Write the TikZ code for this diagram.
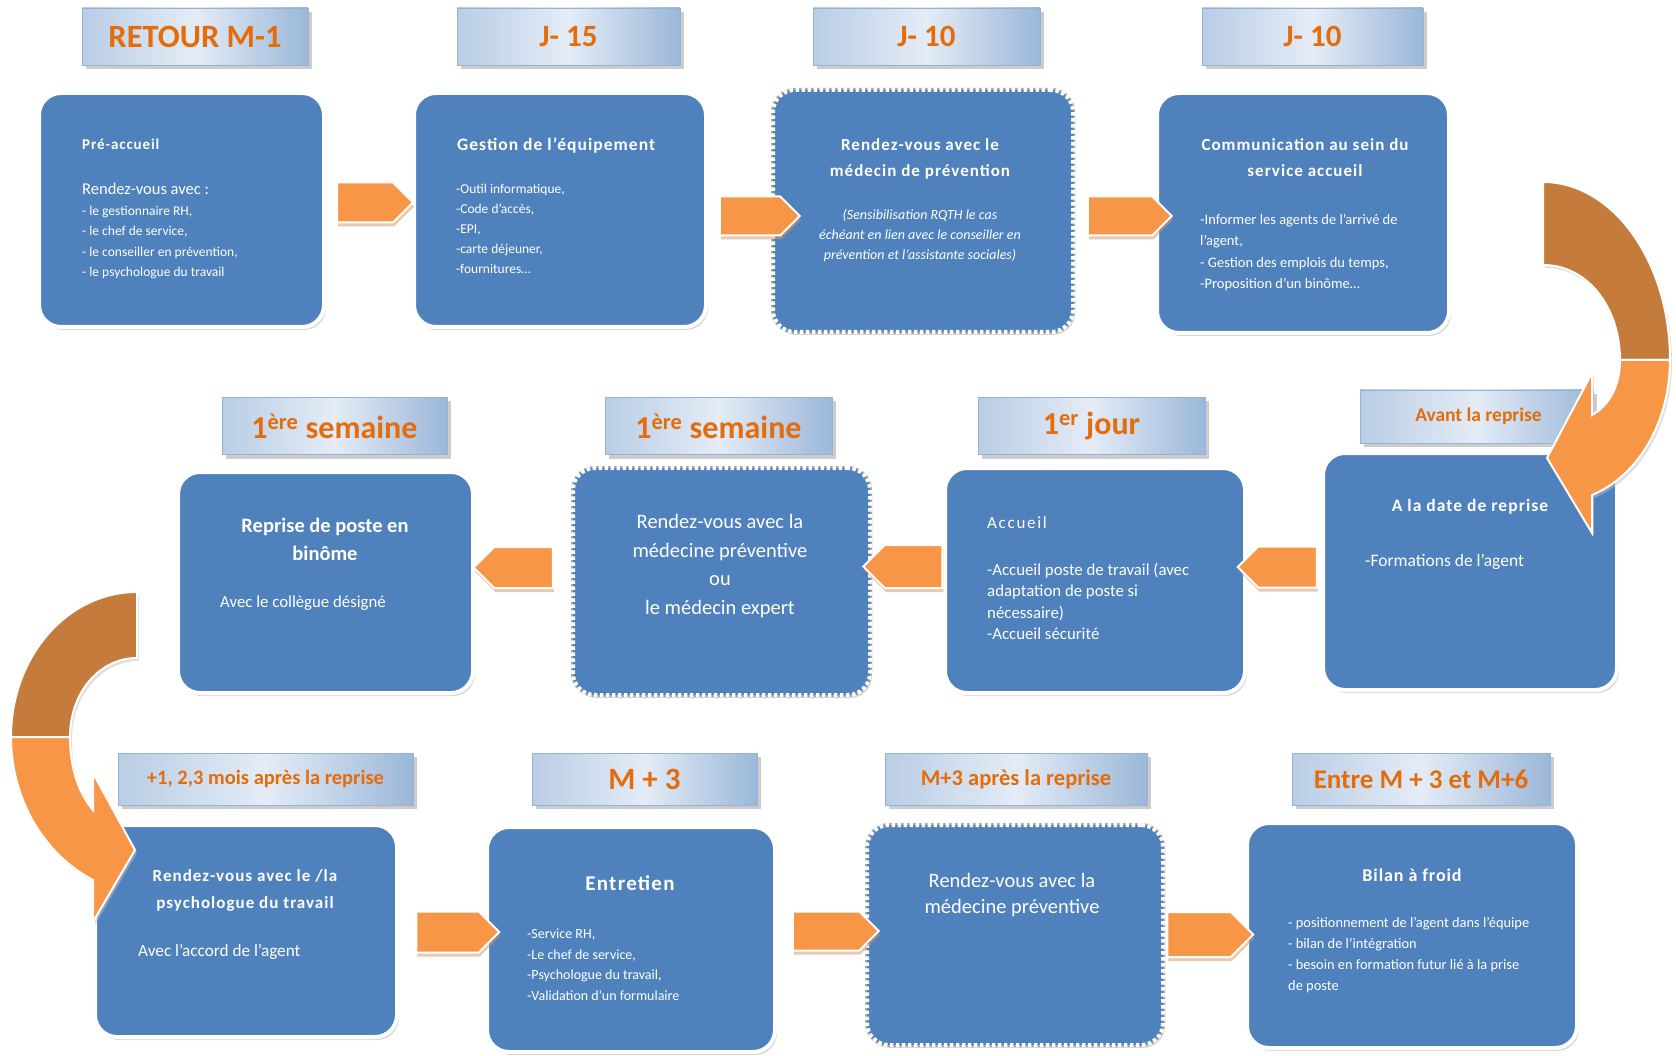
\documentclass[tikz,border=0pt]{standalone}
\usepackage{fontspec}
\setmainfont{Carlito}
\usetikzlibrary{shapes.symbols,shadows,positioning}

\definecolor{bleu}{HTML}{4F81BD}
\definecolor{orangef}{HTML}{F79646}
\definecolor{brun}{HTML}{C57B3B}
\definecolor{orangetxt}{HTML}{E46C0A}
\definecolor{tagA}{HTML}{B9CDE5}
\definecolor{tagB}{HTML}{E4ECF6}
\definecolor{tagC}{HTML}{9BB7D9}
\definecolor{tagline}{HTML}{95B3D7}

\newcommand{\fsz}[2]{\fontsize{#1}{#2}\selectfont}
\newcommand{\ecart}[1]{\addfontfeatures{LetterSpace=#1}}

\tikzset{
  etape/.style={rectangle, rounded corners=22pt, fill=bleu, draw=white, line width=4pt,
    drop shadow={shadow xshift=2pt, shadow yshift=-3pt, fill=black!30}},
  etaped/.style={etape, dash pattern=on 3.5pt off 2.5pt,
    preaction={draw=black!35, line width=4pt, solid}},
  jalon/.style={rectangle, left color=tagA, right color=tagC, middle color=tagB,
    draw=tagline, line width=.6pt, text=orangetxt, font=\bfseries,
    drop shadow={shadow xshift=4pt, shadow yshift=-4pt, fill=black!40}},
  fleche/.style={signal, signal to=east, fill=orangef, draw=white, line width=2pt,
    inner sep=0pt, drop shadow={shadow xshift=1pt, shadow yshift=-4pt, fill=brun!80}},
  flechg/.style={fleche, signal to=west},
  txt/.style={text=white, inner sep=0pt},
  courbe/.style={draw=white, line width=2pt, drop shadow={shadow xshift=2pt, shadow yshift=-3pt, fill=black!25}}
}

\begin{document}
\begin{tikzpicture}[x=1pt, y=-1pt]
  \useasboundingbox (0,0) rectangle (1676,1056);

  % étapes
  \node[etape,  minimum width=285pt, minimum height=234pt] (b1)  at (181.5,210) {};
  \node[etape,  minimum width=292pt, minimum height=234pt] (b2)  at (560,210) {};
  \node[etaped, minimum width=300pt, minimum height=242pt] (b3)  at (923,211) {};
  \node[etape,  minimum width=292pt, minimum height=240pt] (b4)  at (1303,213) {};
  \node[etape,  minimum width=294pt, minimum height=237pt] (b5)  at (1470,571.5) {};
  \node[etape,  minimum width=300pt, minimum height=225pt] (b6)  at (1095,580.5) {};
  \node[etaped, minimum width=297pt, minimum height=227pt] (b7)  at (721.5,581.5) {};
  \node[etape,  minimum width=295pt, minimum height=221pt] (b8)  at (325.5,582.5) {};
  \node[etape,  minimum width=302pt, minimum height=212pt] (b9)  at (246,931) {};
  \node[etape,  minimum width=288pt, minimum height=225pt] (b10) at (631,939.5) {};
  \node[etaped, minimum width=296pt, minimum height=220pt] (b11) at (1015,935) {};
  \node[etape,  minimum width=330pt, minimum height=225pt] (b12) at (1412,935.5) {};

  % jalons
  \begin{scope}[every node/.style={jalon, minimum height=57pt}]
    \node[minimum width=226pt, font=\bfseries\fsz{32.5}{36}] (t1) at (195,36.5) {RETOUR M-1};
    \node[minimum width=223pt, font=\bfseries\fsz{31}{36}] (t2) at (568.5,36.5) {J- 15};
    \node[minimum width=227pt, font=\bfseries\fsz{31}{36}] (t3) at (926.5,36.5) {J- 10};
    \node[minimum width=221pt, font=\bfseries\fsz{31}{36}] (t4) at (1312.5,36.5) {J- 10};
    \node[minimum width=227pt, font=\bfseries\fsz{32}{36}] (t6) at (1091.5,426) {1\textsuperscript{er} jour};
    \node[minimum width=227pt, font=\bfseries\fsz{32}{36}] (t7) at (718.5,426) {1\textsuperscript{ère} semaine};
    \node[minimum width=225pt, font=\bfseries\fsz{32}{36}] (t8) at (334.5,426) {1\textsuperscript{ère} semaine};
  \end{scope}
  \begin{scope}[every node/.style={jalon, minimum height=52pt}]
    \node[minimum width=233pt, minimum height=53pt, font=\bfseries\fsz{19.5}{22}] (t5) at (1476.5,416.5) {\hspace*{4pt}Avant la reprise};
    \node[minimum width=295pt, font=\bfseries\fsz{20.5}{24}] (t9) at (265.5,779) {+1, 2,3 mois après la reprise};
    \node[minimum width=225pt, font=\bfseries\fsz{31}{36}] (t10) at (644.5,779) {M + 3};
    \node[minimum width=262pt, font=\bfseries\fsz{22.5}{24}] (t11) at (1016,779) {M+3 après la reprise};
    \node[minimum width=258pt, font=\bfseries\fsz{27}{30}] (t12) at (1421,779) {Entre M + 3 et M+6};
  \end{scope}

  % flèches
  \node[fleche, minimum width=76pt, minimum height=40pt] (a1) at (365,202.5) {};
  \node[fleche, minimum width=80pt, minimum height=39pt] (a2) at (750,216) {};
  \node[fleche, minimum width=84pt, minimum height=39pt] (a3) at (1120,216) {};
  \node[flechg, minimum width=79pt, minimum height=41pt] (a4) at (1287.5,567) {};
  \node[flechg, minimum width=79pt, minimum height=43pt] (a5) at (913.5,566.5) {};
  \node[flechg, minimum width=79pt, minimum height=41pt] (a6) at (523.5,567.5) {};
  \node[fleche, minimum width=83pt, minimum height=41pt] (a7) at (447.5,932) {};
  \node[fleche, minimum width=86pt, minimum height=39pt] (a8) at (826,931) {};
  \node[fleche, minimum width=86pt, minimum height=45pt] (a9) at (1199,934.5) {};

  % textes
  \node[txt, anchor=west, font=\bfseries\fsz{15}{18}\ecart{6}] (b1h) at (82,144) {Pré-accueil};
  \node[txt, anchor=west, font=\fsz{16.5}{20}] (b1r) at (82,189) {Rendez-vous avec :};
  \node[txt, anchor=north west, align=left, font=\fsz{13.5}{20.3}] (b1l) at (82,206)
    {- le gestionnaire RH,\\- le chef de service,\\- le conseiller en prévention,\\- le psychologue du travail};

  \node[txt, anchor=west, font=\bfseries\fsz{17.5}{21}\ecart{6}] (b2h) at (457,146) {Gestion de l’équipement};
  \node[txt, anchor=north west, align=left, font=\fsz{13.5}{20}] (b2l) at (456,184)
    {-Outil informatique,\\-Code d’accès,\\-EPI,\\-carte déjeuner,\\-fournitures…};

  \node[txt, anchor=north, align=center, font=\bfseries\fsz{17}{26}\ecart{6}] (b3h) at (920,138)
    {Rendez-vous avec le\\médecin de prévention};
  \node[txt, anchor=north, align=center, font=\itshape\fsz{14}{20}] (b3l) at (920,209)
    {(Sensibilisation RQTH le cas\\échéant en lien avec le conseiller en\\prévention et l’assistante sociales)};

  \node[txt, anchor=north, align=center, font=\bfseries\fsz{17}{26}\ecart{6}] (b4h) at (1305,138)
    {Communication au sein du\\service accueil};
  \node[txt, anchor=north west, align=left, font=\fsz{14.5}{21.5}] (b4l) at (1200,214)
    {-Informer les agents de l’arrivé de\\l’agent,\\- Gestion des emplois du temps,\\-Proposition d’un binôme…};

  \node[txt, font=\bfseries\fsz{17.5}{20}\ecart{6}] (b5h) at (1470,507) {A la date de reprise};
  \node[txt, anchor=west, font=\fsz{17.5}{20}] (b5l) at (1365,562) {-Formations de l’agent};

  \node[txt, anchor=west, font=\fsz{17}{20}\ecart{10}] (b6h) at (987,523) {Accueil};
  \node[txt, anchor=north west, align=left, font=\fsz{16.8}{21.5}] (b6l) at (987,563)
    {-Accueil poste de travail (avec\\adaptation de poste si\\nécessaire)\\-Accueil sécurité};

  \node[txt, anchor=north, align=center, font=\fsz{20.5}{28.7}] (b7h) at (720,514)
    {Rendez-vous avec la\\médecine préventive\\ou\\le médecin expert};

  \node[txt, anchor=north, align=center, font=\bfseries\fsz{20.5}{28}] (b8h) at (325,518)
    {Reprise de poste en\\binôme};
  \node[txt, anchor=west, font=\fsz{16.8}{20}] (b8l) at (220,603) {Avec le collègue désigné};

  \node[txt, anchor=north, align=center, font=\bfseries\fsz{17}{27}\ecart{6}] (b9h) at (245,869)
    {Rendez-vous avec le /la\\psychologue du travail};
  \node[txt, anchor=west, font=\fsz{17.2}{20}] (b9l) at (138,952) {Avec l’accord de l’agent};

  \node[txt, font=\bfseries\fsz{21}{24}\ecart{6}] (b10h) at (630,883) {Entretien};
  \node[txt, anchor=north west, align=left, font=\fsz{14}{20.5}] (b10l) at (527,929)
    {-Service RH,\\-Le chef de service,\\-Psychologue du travail,\\-Validation d’un formulaire};

  \node[txt, anchor=north, align=center, font=\fsz{20.5}{26.5}] (b11h) at (1012,873)
    {Rendez-vous avec la\\médecine préventive};

  \node[txt, font=\bfseries\fsz{18}{22}\ecart{5}] (b12h) at (1412,875) {Bilan à froid};
  \node[txt, anchor=north west, align=left, font=\fsz{14.4}{21}] (b12l) at (1288,917)
    {- positionnement de l’agent dans l’équipe\\- bilan de l’intégration\\- besoin en formation futur lié à la prise\\de poste};

  % flèches courbes
  \fill[brun, courbe] (1543,182) .. controls (1613,182) and (1670,262) .. (1670,360)
    -- (1620,360) .. controls (1620,308) and (1588,265) .. (1543,265) -- cycle;
  \fill[orangef, courbe] (1670,360) .. controls (1670,420) and (1640,475) .. (1592,495)
    -- (1592,533) -- (1547,458) -- (1592,373) -- (1592,415)
    .. controls (1610,405) and (1620,385) .. (1620,360) -- cycle;

  \fill[brun, courbe] (137,592) .. controls (67,592) and (11,657) .. (11,737)
    -- (70,737) .. controls (70,692) and (100,658) .. (137,658) -- cycle;
  \fill[orangef, courbe] (11,737) .. controls (11,800) and (45,855) .. (93,880)
    -- (93,922) -- (135,850) -- (93,773) -- (93,810)
    .. controls (80,795) and (70,770) .. (70,737) -- cycle;
\end{tikzpicture}
\end{document}
